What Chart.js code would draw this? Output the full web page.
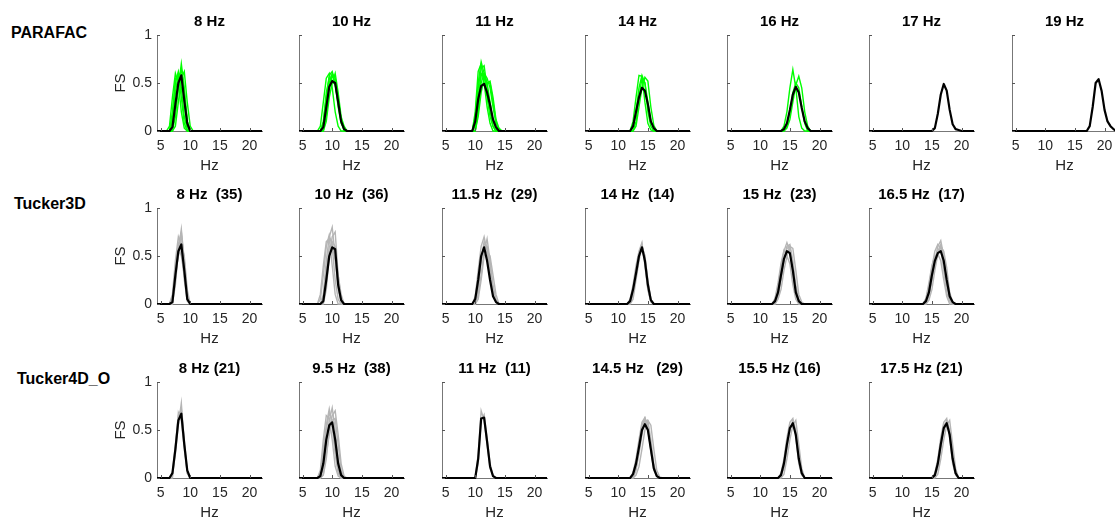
<!DOCTYPE html>
<html><head><meta charset="utf-8">
<script src="https://cdn.jsdelivr.net/npm/chart.js@4.4.1/dist/chart.umd.min.js"></script>
<style>
html,body{margin:0;padding:0;background:#fff;}
body{width:1115px;height:517px;overflow:hidden;position:relative;font-family:"Liberation Sans",Arial,sans-serif;}
.rowlab{position:absolute;font-weight:bold;font-size:16px;line-height:18px;color:#000;white-space:nowrap;}
canvas{position:absolute;}
</style></head><body>
<script>
// ---------- data ----------
const rowNames = ['PARAFAC', 'Tucker3D', 'Tucker4D_O'];
const parafacTitles = ['8 Hz', '10 Hz', '11 Hz', '14 Hz', '16 Hz', '17 Hz', '19 Hz'];
const tucker3dTitles = ['8 Hz  (35)', '10 Hz  (36)', '11.5 Hz  (29)', '14 Hz  (14)', '15 Hz  (23)', '16.5 Hz  (17)'];
const tucker4dTitles = ['8 Hz (21)', '9.5 Hz  (38)', '11 Hz  (11)', '14.5 Hz   (29)', '15.5 Hz (16)', '17.5 Hz (21)'];
const hzTicks = [5, 10, 15, 20];
const fsTicks = [0, 0.5, 1];
const fsTickLabels = ['0', '0.5', '1'];
const hzRange = [4.4, 22.1];
const hzStep = 0.5; // spectral resolution of every curve (Hz)

// mean spectra (black): first frequency + FS values every hzStep
const parafacMean = [
  {from: 6.5, fs: [0, 0.04, 0.28, 0.5, 0.58, 0.32, 0.08, 0]},
  {from: 8, fs: [0, 0.04, 0.25, 0.46, 0.52, 0.5, 0.3, 0.1, 0.02, 0]},
  {from: 9.5, fs: [0, 0.1, 0.33, 0.47, 0.49, 0.4, 0.27, 0.12, 0.04, 0]},
  {from: 12, fs: [0, 0.05, 0.2, 0.35, 0.45, 0.42, 0.28, 0.1, 0.03, 0]},
  {from: 13.5, fs: [0, 0.02, 0.08, 0.22, 0.38, 0.46, 0.4, 0.24, 0.1, 0.03, 0]},
  {from: 15, fs: [0, 0.03, 0.18, 0.38, 0.49, 0.42, 0.22, 0.07, 0.02, 0.01, 0]},
  {from: 17, fs: [0, 0.05, 0.25, 0.5, 0.54, 0.42, 0.22, 0.1, 0.05, 0.02, 0]}
];
const tucker3dMean = [
  {from: 6.5, fs: [0, 0.02, 0.3, 0.55, 0.62, 0.35, 0.05, 0]},
  {from: 8, fs: [0, 0.03, 0.25, 0.5, 0.59, 0.57, 0.2, 0.04, 0]},
  {from: 9.5, fs: [0, 0.05, 0.25, 0.5, 0.59, 0.45, 0.25, 0.08, 0.02, 0]},
  {from: 11.5, fs: [0, 0.03, 0.15, 0.32, 0.5, 0.59, 0.45, 0.2, 0.04, 0]},
  {from: 12, fs: [0, 0.03, 0.12, 0.3, 0.47, 0.55, 0.53, 0.35, 0.12, 0.03, 0]},
  {from: 13.5, fs: [0, 0.03, 0.12, 0.3, 0.45, 0.53, 0.55, 0.45, 0.25, 0.08, 0.02, 0]}
];
const tucker4dMean = [
  {from: 6.5, fs: [0, 0.05, 0.3, 0.6, 0.67, 0.35, 0.08, 0]},
  {from: 7.5, fs: [0, 0.02, 0.15, 0.4, 0.55, 0.58, 0.4, 0.15, 0.03, 0]},
  {from: 10, fs: [0, 0.2, 0.62, 0.63, 0.38, 0.12, 0.02, 0]},
  {from: 12, fs: [0, 0.04, 0.15, 0.32, 0.5, 0.56, 0.5, 0.3, 0.1, 0.02, 0]},
  {from: 13, fs: [0, 0.03, 0.15, 0.35, 0.52, 0.57, 0.45, 0.2, 0.05, 0]},
  {from: 15, fs: [0, 0.03, 0.15, 0.35, 0.52, 0.57, 0.45, 0.2, 0.05, 0]}
];

// individual runs (green for PARAFAC, grey for Tucker)
const parafacRuns = [
  [ {from: 6.5, fs: [0, 0.2, 0.5, 0.62, 0.45, 0.15, 0.02, 0]},
    {from: 6.5, fs: [0, 0.1, 0.4, 0.6, 0.58, 0.3, 0.05, 0]},
    {from: 7, fs: [0, 0.15, 0.45, 0.7, 0.45, 0.1, 0]},
    {from: 6.5, fs: [0, 0.05, 0.25, 0.5, 0.65, 0.4, 0.1, 0]},
    {from: 6, fs: [0, 0.05, 0.35, 0.6, 0.5, 0.2, 0.03, 0]},
    {from: 7, fs: [0, 0.05, 0.3, 0.55, 0.62, 0.3, 0.05, 0]},
    {from: 6.5, fs: [0, 0.15, 0.55, 0.58, 0.35, 0.08, 0]} ],
  [ {from: 8, fs: [0, 0.08, 0.35, 0.58, 0.62, 0.5, 0.25, 0.08, 0.02, 0]},
    {from: 8, fs: [0, 0.05, 0.25, 0.5, 0.6, 0.55, 0.35, 0.12, 0.03, 0]},
    {from: 7.5, fs: [0, 0.05, 0.3, 0.55, 0.6, 0.45, 0.2, 0.05, 0]},
    {from: 8.5, fs: [0, 0.15, 0.45, 0.58, 0.5, 0.3, 0.12, 0.03, 0]},
    {from: 8, fs: [0, 0.1, 0.4, 0.55, 0.52, 0.48, 0.3, 0.1, 0]},
    {from: 8.5, fs: [0, 0.1, 0.35, 0.5, 0.6, 0.4, 0.15, 0.05, 0]} ],
  [ {from: 9.5, fs: [0, 0.15, 0.5, 0.72, 0.6, 0.35, 0.15, 0.05, 0]},
    {from: 9.5, fs: [0, 0.1, 0.45, 0.65, 0.68, 0.45, 0.2, 0.05, 0]},
    {from: 10, fs: [0, 0.3, 0.6, 0.55, 0.5, 0.5, 0.3, 0.1, 0]},
    {from: 10, fs: [0, 0.2, 0.5, 0.6, 0.55, 0.45, 0.25, 0.08, 0.02, 0]},
    {from: 9.5, fs: [0, 0.2, 0.62, 0.7, 0.5, 0.25, 0.08, 0]},
    {from: 10, fs: [0, 0.15, 0.4, 0.55, 0.5, 0.52, 0.35, 0.12, 0.03, 0]},
    {from: 9.5, fs: [0, 0.05, 0.35, 0.58, 0.6, 0.5, 0.3, 0.1, 0.02, 0]} ],
  [ {from: 12, fs: [0, 0.1, 0.35, 0.58, 0.57, 0.3, 0.08, 0.01, 0]},
    {from: 12, fs: [0, 0.03, 0.2, 0.45, 0.58, 0.5, 0.2, 0.05, 0]},
    {from: 12.5, fs: [0, 0.05, 0.25, 0.45, 0.56, 0.52, 0.25, 0.06, 0]},
    {from: 12.5, fs: [0, 0.1, 0.35, 0.55, 0.5, 0.3, 0.1, 0.02, 0]} ],
  [ {from: 13.5, fs: [0, 0.05, 0.2, 0.45, 0.64, 0.45, 0.15, 0.03, 0]},
    {from: 14, fs: [0, 0.03, 0.12, 0.3, 0.48, 0.57, 0.45, 0.2, 0.05, 0]},
    {from: 14, fs: [0, 0.05, 0.2, 0.4, 0.5, 0.45, 0.25, 0.08, 0]} ],
  [],
  []
];
const tucker3dRuns = [
  [ {from: 6.5, fs: [0, 0.1, 0.45, 0.7, 0.6, 0.25, 0.03, 0]},
    {from: 6.5, fs: [0, 0.05, 0.35, 0.62, 0.75, 0.4, 0.08, 0]},
    {from: 7, fs: [0, 0.2, 0.55, 0.72, 0.45, 0.1, 0]},
    {from: 6.5, fs: [0, 0.03, 0.25, 0.55, 0.78, 0.45, 0.1, 0]},
    {from: 7, fs: [0, 0.35, 0.6, 0.5, 0.3, 0.05, 0]},
    {from: 6.5, fs: [0, 0.08, 0.3, 0.5, 0.62, 0.5, 0.15, 0]} ],
  [ {from: 7.5, fs: [0, 0.05, 0.3, 0.6, 0.72, 0.6, 0.25, 0.05, 0]},
    {from: 8, fs: [0, 0.1, 0.45, 0.7, 0.8, 0.5, 0.15, 0.02, 0]},
    {from: 8, fs: [0, 0.03, 0.25, 0.5, 0.7, 0.75, 0.3, 0.05, 0]},
    {from: 8.5, fs: [0, 0.15, 0.5, 0.65, 0.6, 0.3, 0.1, 0]},
    {from: 8, fs: [0, 0.08, 0.35, 0.6, 0.62, 0.45, 0.2, 0.05, 0]},
    {from: 7.5, fs: [0, 0.1, 0.4, 0.65, 0.68, 0.4, 0.1, 0]} ],
  [ {from: 9.5, fs: [0, 0.08, 0.35, 0.6, 0.7, 0.55, 0.3, 0.1, 0.02, 0]},
    {from: 10, fs: [0, 0.15, 0.45, 0.65, 0.6, 0.35, 0.12, 0.03, 0]},
    {from: 9.5, fs: [0, 0.05, 0.2, 0.45, 0.62, 0.6, 0.4, 0.15, 0.03, 0]},
    {from: 10, fs: [0, 0.1, 0.3, 0.55, 0.68, 0.45, 0.2, 0.05, 0]},
    {from: 10, fs: [0, 0.05, 0.25, 0.5, 0.55, 0.5, 0.3, 0.1, 0]} ],
  [ {from: 11.5, fs: [0, 0.05, 0.2, 0.4, 0.55, 0.64, 0.4, 0.15, 0.03, 0]},
    {from: 11.5, fs: [0, 0.02, 0.12, 0.28, 0.48, 0.6, 0.5, 0.25, 0.05, 0]},
    {from: 12, fs: [0, 0.1, 0.3, 0.5, 0.62, 0.42, 0.15, 0.02, 0]},
    {from: 12, fs: [0, 0.05, 0.25, 0.45, 0.6, 0.5, 0.22, 0.05, 0]} ],
  [ {from: 12, fs: [0, 0.05, 0.18, 0.38, 0.55, 0.64, 0.55, 0.3, 0.1, 0.02, 0]},
    {from: 12.5, fs: [0, 0.08, 0.25, 0.45, 0.6, 0.62, 0.45, 0.2, 0.05, 0]},
    {from: 12, fs: [0, 0.02, 0.1, 0.28, 0.45, 0.58, 0.6, 0.4, 0.15, 0.04, 0]},
    {from: 12.5, fs: [0, 0.05, 0.15, 0.35, 0.5, 0.6, 0.58, 0.35, 0.1, 0.02, 0]},
    {from: 12, fs: [0, 0.06, 0.22, 0.42, 0.56, 0.5, 0.42, 0.2, 0.05, 0]} ],
  [ {from: 13.5, fs: [0, 0.05, 0.18, 0.38, 0.55, 0.62, 0.58, 0.35, 0.12, 0.03, 0]},
    {from: 14, fs: [0, 0.08, 0.25, 0.45, 0.6, 0.66, 0.5, 0.25, 0.07, 0]},
    {from: 13.5, fs: [0, 0.02, 0.1, 0.25, 0.42, 0.55, 0.62, 0.48, 0.2, 0.05, 0]},
    {from: 14, fs: [0, 0.04, 0.15, 0.35, 0.52, 0.6, 0.55, 0.38, 0.12, 0.02, 0]},
    {from: 13.5, fs: [0, 0.06, 0.22, 0.4, 0.5, 0.52, 0.45, 0.25, 0.08, 0]} ]
];
const tucker4dRuns = [
  [ {from: 6.5, fs: [0, 0.06, 0.35, 0.65, 0.72, 0.4, 0.08, 0]},
    {from: 6.5, fs: [0, 0.03, 0.25, 0.55, 0.78, 0.35, 0.05, 0]},
    {from: 7, fs: [0, 0.3, 0.68, 0.6, 0.3, 0.05, 0]} ],
  [ {from: 7.5, fs: [0, 0.05, 0.3, 0.55, 0.72, 0.55, 0.25, 0.05, 0]},
    {from: 8, fs: [0, 0.03, 0.2, 0.5, 0.65, 0.7, 0.45, 0.15, 0.02, 0]},
    {from: 7.5, fs: [0, 0.08, 0.4, 0.65, 0.62, 0.4, 0.12, 0.02, 0]},
    {from: 8, fs: [0, 0.1, 0.35, 0.6, 0.73, 0.5, 0.2, 0.05, 0]},
    {from: 8, fs: [0, 0.04, 0.25, 0.45, 0.6, 0.62, 0.35, 0.08, 0]},
    {from: 7.5, fs: [0, 0.03, 0.2, 0.5, 0.68, 0.6, 0.3, 0.08, 0]} ],
  [ {from: 10, fs: [0, 0.25, 0.7, 0.6, 0.35, 0.1, 0.02, 0]},
    {from: 10, fs: [0, 0.15, 0.6, 0.66, 0.42, 0.15, 0.03, 0]} ],
  [ {from: 12, fs: [0, 0.06, 0.2, 0.4, 0.58, 0.63, 0.52, 0.28, 0.08, 0.02, 0]},
    {from: 12, fs: [0, 0.02, 0.1, 0.25, 0.45, 0.6, 0.6, 0.4, 0.15, 0.03, 0]},
    {from: 12.5, fs: [0, 0.08, 0.28, 0.5, 0.62, 0.55, 0.3, 0.1, 0.02, 0]},
    {from: 12, fs: [0, 0.05, 0.15, 0.35, 0.55, 0.62, 0.5, 0.3, 0.12, 0.04, 0]},
    {from: 12.5, fs: [0, 0.03, 0.12, 0.3, 0.5, 0.6, 0.55, 0.3, 0.08, 0.01, 0]} ],
  [ {from: 13, fs: [0, 0.05, 0.2, 0.42, 0.58, 0.62, 0.42, 0.15, 0.03, 0]},
    {from: 13.5, fs: [0, 0.04, 0.2, 0.4, 0.55, 0.6, 0.35, 0.1, 0]},
    {from: 13, fs: [0, 0.02, 0.1, 0.3, 0.5, 0.6, 0.5, 0.25, 0.06, 0]} ],
  [ {from: 15, fs: [0, 0.05, 0.2, 0.42, 0.58, 0.62, 0.42, 0.15, 0.03, 0]},
    {from: 15.5, fs: [0, 0.04, 0.2, 0.4, 0.55, 0.6, 0.35, 0.1, 0]},
    {from: 15, fs: [0, 0.02, 0.1, 0.3, 0.5, 0.6, 0.5, 0.25, 0.06, 0]},
    {from: 15, fs: [0, 0.03, 0.15, 0.38, 0.55, 0.58, 0.45, 0.2, 0.05, 0]} ]
];

// ---------- layout ----------
const colLeft = [157, 299, 442, 585, 727, 869, 1012];
const rowTop = [35, 208, 382];
const rowLabelPos = [[11, 24], [14, 195], [17, 370]];
const plotW = 105, plotH = 96, yAxW = 45, xAxH = 45, titleH = 28, padR = 45;
const runColors = ['#00ff00', '#b5b5b5', '#b5b5b5'];

Chart.defaults.font.family = '"Liberation Sans", Arial, sans-serif';
Chart.defaults.color = '#262626';

const inwardTicks = {
  id: 'inwardTicks',
  afterDatasetsDraw(chart) {
    const {ctx, chartArea: a, scales: {x, y}} = chart;
    ctx.save();
    ctx.strokeStyle = '#555';
    ctx.lineWidth = 1;
    ctx.beginPath();
    hzTicks.forEach(v => { const p = Math.round(x.getPixelForValue(v)) + 0.5; ctx.moveTo(p, a.bottom); ctx.lineTo(p, a.bottom - 3); });
    fsTicks.forEach(v => { const p = Math.round(y.getPixelForValue(v)) + 0.5; ctx.moveTo(a.left, p); ctx.lineTo(a.left + 3, p); });
    ctx.stroke();
    ctx.restore();
  }
};

function toPoints(c) {
  const pts = [{x: hzRange[0], y: 0}];
  c.fs.forEach((v, i) => pts.push({x: c.from + i * hzStep, y: v}));
  pts.push({x: hzRange[1], y: 0});
  return pts;
}

function zeroPad(s) { s.paddingLeft = 0; s.paddingRight = 0; s.paddingTop = 0; s.paddingBottom = 0; }

function makePanel(row, col, title, mean, runs) {
  const cv = document.createElement('canvas');
  const W = yAxW + plotW + padR, H = titleH + plotH + xAxH;
  cv.width = W; cv.height = H;
  cv.style.left = (colLeft[col] - yAxW) + 'px';
  cv.style.top = (rowTop[row] - titleH) + 'px';
  cv.style.width = W + 'px'; cv.style.height = H + 'px';
  document.body.appendChild(cv);
  const first = col === 0;
  const datasets = [{
    data: toPoints(mean), borderColor: '#000', borderWidth: 2.2,
    pointRadius: 0, tension: 0, clip: 4, borderJoinStyle: 'round'
  }];
  runs.forEach(r => datasets.push({
    data: toPoints(r), borderColor: runColors[row], borderWidth: 1.4,
    pointRadius: 0, tension: 0, clip: 4
  }));
  new Chart(cv, {
    type: 'line',
    data: {datasets},
    options: {
      responsive: false, animation: false, devicePixelRatio: 1,
      events: [],
      layout: {padding: {left: 0, right: padR, top: 0, bottom: 0}},
      plugins: {
        legend: {display: false}, tooltip: {enabled: false},
        title: {display: true, text: title, fullSize: false,
          font: {size: 15, weight: 'bold'}, color: '#000',
          padding: {top: 6, bottom: 4}}
      },
      scales: {
        x: {
          type: 'linear', min: hzRange[0], max: hzRange[1],
          afterBuildTicks: s => { s.ticks = hzTicks.map(v => ({value: v})); },
          afterFit: s => { s.height = xAxH; zeroPad(s); },
          ticks: {autoSkip: false, maxRotation: 0, font: {size: 14}, color: '#262626', padding: 7},
          grid: {display: false, drawTicks: false},
          border: {display: true, color: '#777', width: 1},
          title: {display: true, text: 'Hz', font: {size: 15}, color: '#262626', padding: {top: 0, bottom: 1}}
        },
        y: {
          type: 'linear', min: 0, max: 1,
          afterBuildTicks: s => { s.ticks = fsTicks.map(v => ({value: v})); },
          afterFit: s => { s.width = yAxW; zeroPad(s); },
          ticks: {display: first, font: {size: 14}, color: '#262626', padding: 5,
            callback: v => fsTickLabels[fsTicks.indexOf(v)]},
          grid: {display: false, drawTicks: false},
          border: {display: true, color: '#777', width: 1},
          title: {display: first, text: 'FS', font: {size: 15}, color: '#262626', padding: {top: 0, bottom: 0}}
        }
      }
    },
    plugins: [inwardTicks]
  });
}

rowNames.forEach((name, r) => {
  const d = document.createElement('div');
  d.className = 'rowlab';
  d.textContent = name;
  d.style.left = rowLabelPos[r][0] + 'px';
  d.style.top = rowLabelPos[r][1] + 'px';
  document.body.appendChild(d);
});

parafacTitles.forEach((t, c) => makePanel(0, c, t, parafacMean[c], parafacRuns[c]));
tucker3dTitles.forEach((t, c) => makePanel(1, c, t, tucker3dMean[c], tucker3dRuns[c]));
tucker4dTitles.forEach((t, c) => makePanel(2, c, t, tucker4dMean[c], tucker4dRuns[c]));
</script>
</body></html>
